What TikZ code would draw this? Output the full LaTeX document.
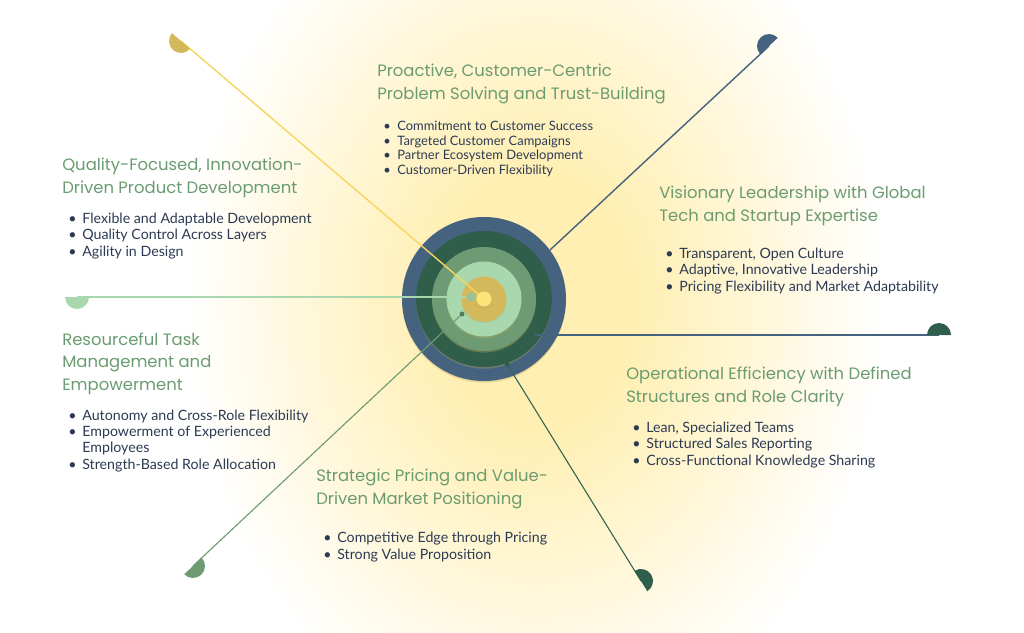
\documentclass[tikz,border=0pt]{standalone}
\usepackage{fontspec}
\setmainfont{Lato}
\newfontfamily\headfont{Poppins}
\usepackage{tikz}
\usetikzlibrary{shadows}
\pgfdeclarelayer{bg}
\pgfsetlayers{bg,main}
\definecolor{cblue}{HTML}{45627F}
\definecolor{cdkgreen}{HTML}{2F5E4A}
\definecolor{cmdgreen}{HTML}{6E9B74}
\definecolor{cltgreen}{HTML}{A9D8AE}
\definecolor{cgold}{HTML}{D3B95C}
\definecolor{cpale}{HTML}{FDE47A}
\definecolor{cgoldline}{HTML}{F6D660}
\definecolor{cshadow}{HTML}{B9A75A}
\definecolor{chead}{HTML}{6B9C71}
\definecolor{ctext}{HTML}{2C3A54}
\definecolor{cglow}{HTML}{FFEFB2}
\newcommand\pxu{0.025cm}
\newcommand\itm{\makebox[10pt][l]{\textbullet}}
\pgfdeclareradialshading{halo}{\pgfpointorigin}{color(0bp)=(cglow); color(7bp)=(cglow); color(25bp)=(white); color(50bp)=(white)}
\tikzset{
    ring/.style={circle, inner sep=0mm, draw=none, drop shadow={shadow xshift=0pt, shadow yshift=-1.2pt, opacity=.35, fill=cshadow}},
    dot/.style={circle, inner sep=0mm, draw=none},
    spoke/.style={line width=.8pt},
    headtext/.style={anchor=base west, inner sep=0mm, align=left, text=chead, font=\headfont\fontsize{11.7}{16}\selectfont},
    itemtext/.style={anchor=base west, inner sep=0mm, align=left, text=ctext, font=\fontsize{10.1}{11.4}\selectfont}
}

\begin{document}
\begin{tikzpicture}[x=\pxu, y=\pxu]
        \useasboundingbox (0,0) rectangle (1024,-632);
        \begin{pgfonlayer}{bg}
                \fill[white] (0,0) rectangle (1024,-632);
                \shade[shading=halo] (535,-300) ellipse [x radius=350, y radius=450];
        \end{pgfonlayer}
        % rings
        \coordinate (o) at (484,-299);
        \node (r0) [ring, fill=cblue, minimum size=164*\pxu] at (o) {};
        \node (r1) [ring, fill=cdkgreen, minimum size=136*\pxu] at (o) {};
        \node (r2) [ring, fill=cmdgreen, minimum size=104*\pxu] at (o) {};
        \node (r3) [ring, fill=cltgreen, minimum size=75*\pxu] at (o) {};
        \node (r4) [ring, fill=cgold, minimum size=45*\pxu] at (o) {};
        % spoke ends
        \node (d1) [dot, fill=cltgreen!90!black, minimum size=9*\pxu] at (471,-297) {};
        \node (d2) [dot, fill=cmdgreen!80!black, minimum size=5*\pxu] at (462,-314) {};
        \node (d3) [dot, fill=cdkgreen, minimum size=5*\pxu] at (507,-364) {};
        \coordinate (s4) at (535,-335);
        \coordinate (s5) at (550,-250);
        \coordinate (c0) at (181,-41);
        \coordinate (c1) at (77,-297);
        \coordinate (c2) at (193,-566);
        \coordinate (c3) at (641,-581);
        \coordinate (c4) at (939,-335);
        \coordinate (c5) at (769,-46);
        \draw (o) edge [spoke, cgoldline, line width=1pt] (c0);
        \draw (d1) edge [spoke, cltgreen, line width=1.4pt] (c1);
        \draw (d2) edge [spoke, cmdgreen] (c2);
        \draw (d3) edge [spoke, cdkgreen!85!cmdgreen] (c3);
        \draw (s4) edge [spoke, cblue, line width=1pt] (c4);
        \draw (s5) edge [spoke, cblue, line width=1pt] (c5);
        \fill[cgold] (c0) ++(139.6:12) arc[start angle=139.6, delta angle=180, radius=12] -- cycle;
        \fill[cltgreen] (c1) ++(180:12) arc[start angle=180, delta angle=180, radius=12] -- cycle;
        \fill[cmdgreen] (c2) ++(223.1:12) arc[start angle=223.1, delta angle=180, radius=12] -- cycle;
        \fill[cdkgreen] (c3) ++(301.7:12) arc[start angle=301.7, delta angle=180, radius=12] -- cycle;
        \fill[cdkgreen] (c4) ++(0:12) arc[start angle=0, delta angle=180, radius=12] -- cycle;
        \fill[cblue] (c5) ++(43:12) arc[start angle=43, delta angle=180, radius=12] -- cycle;
        \node (r5) [ring, fill=cpale, minimum size=15*\pxu] at (o) {};
        % texts (placed at the baseline of their last line)
        \node (h0) [headtext] at (377,-99) {Proactive, Customer-Centric\\Problem Solving and Trust-Building};
        \node (l0) [itemtext, font=\fontsize{9.2}{10.3}\selectfont] at (383,-174) {\itm Commitment to Customer Success\\\itm Targeted Customer Campaigns\\\itm Partner Ecosystem Development\\\itm Customer-Driven Flexibility};
        \node (h1) [headtext] at (62,-193) {Quality-Focused, Innovation-\\Driven Product Development};
        \node (l1) [itemtext] at (68,-256) {\itm Flexible and Adaptable Development\\\itm Quality Control Across Layers\\\itm Agility in Design};
        \node (h2) [headtext] at (659,-221) {Visionary Leadership with Global\\Tech and Startup Expertise};
        \node (l2) [itemtext] at (665,-291) {\itm Transparent, Open Culture\\\itm Adaptive, Innovative Leadership\\\itm Pricing Flexibility and Market Adaptability};
        \node (h3) [headtext] at (62,-390) {Resourceful Task\\Management and\\Empowerment};
        \node (l3) [itemtext] at (68,-469) {\itm Autonomy and Cross-Role Flexibility\\\itm Empowerment of Experienced\\\hspace*{10pt}Employees\\\itm Strength-Based Role Allocation};
        \node (h4) [headtext] at (626,-402) {Operational Efficiency with Defined\\Structures and Role Clarity};
        \node (l4) [itemtext] at (632,-465) {\itm Lean, Specialized Teams\\\itm Structured Sales Reporting\\\itm Cross-Functional Knowledge Sharing};
        \node (h5) [headtext] at (316,-504) {Strategic Pricing and Value-\\Driven Market Positioning};
        \node (l5) [itemtext] at (323,-559) {\itm Competitive Edge through Pricing\\\itm Strong Value Proposition};
\end{tikzpicture}
\end{document}
